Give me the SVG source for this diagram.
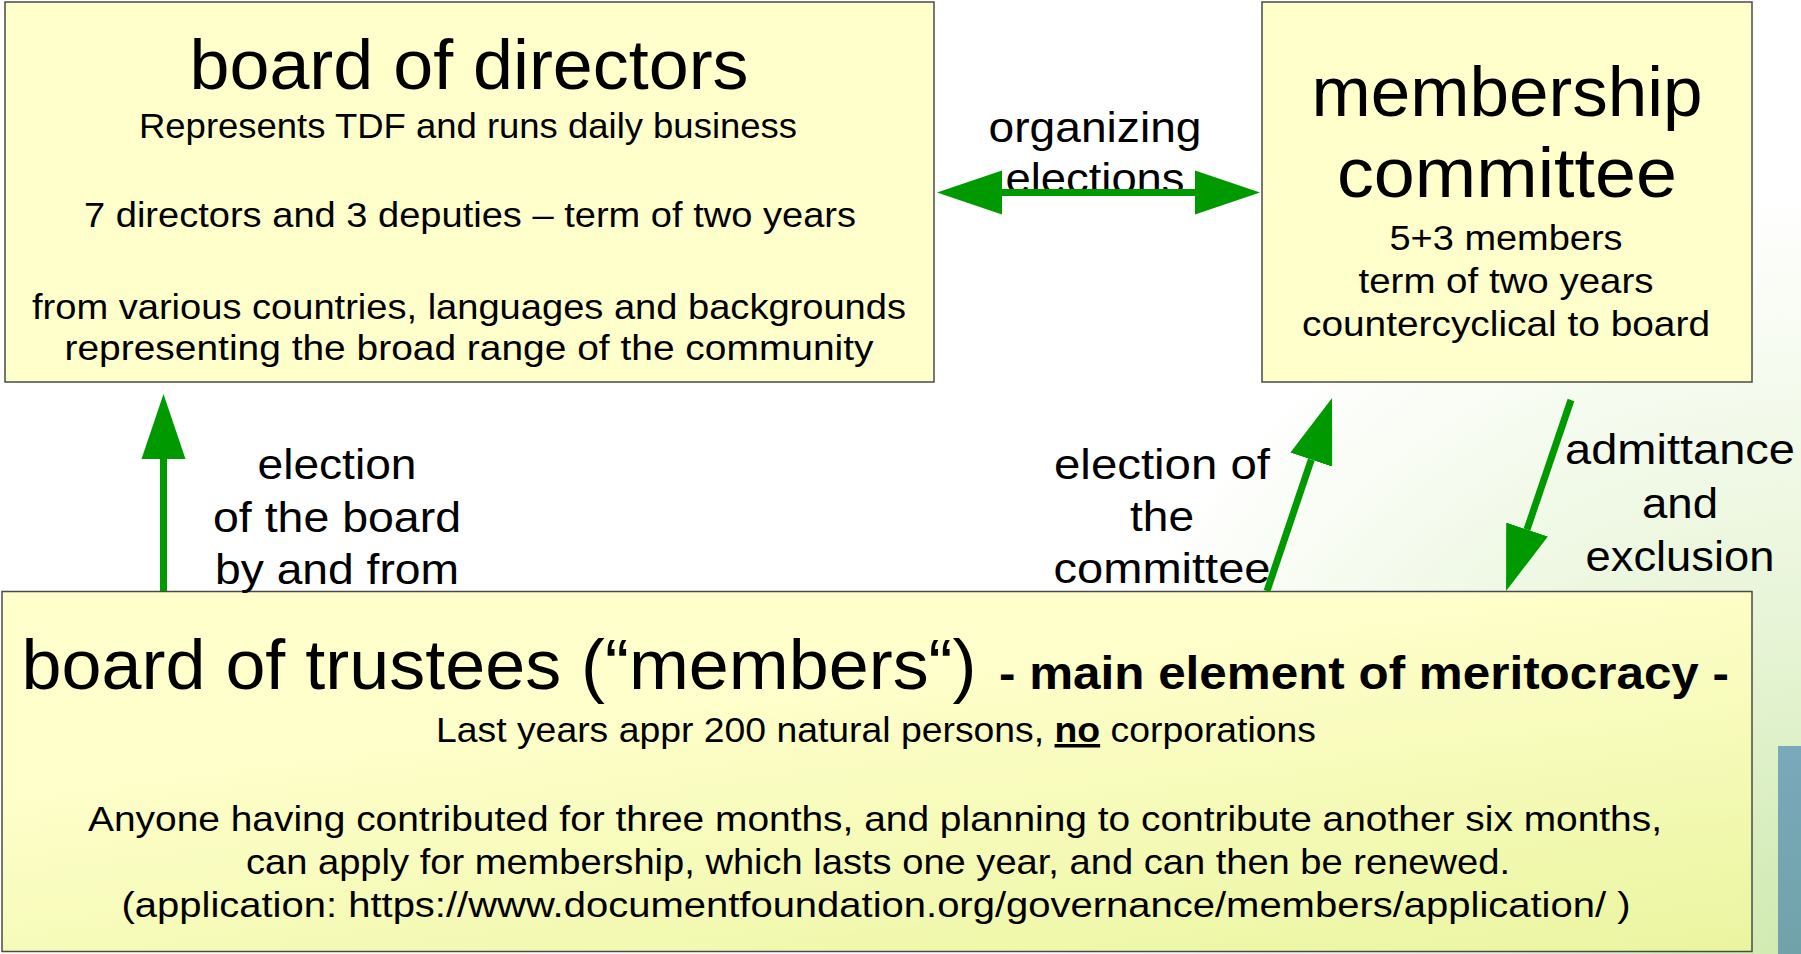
<svg xmlns="http://www.w3.org/2000/svg" width="1801" height="954" viewBox="0 0 1801 954">
<defs>
<style>
text{font-family:"Liberation Sans",Arial,sans-serif;fill:#000;text-anchor:middle}
.title{font-size:70px}
.body{font-size:35px}
.lbl{font-size:42px}
.box{fill:#ffffcc;stroke:#4a4a4a;stroke-width:1.5}
.conn{stroke:#009900;stroke-width:7;fill:none}
</style>
<radialGradient id="bg" cx="1801" cy="954" r="760" gradientUnits="userSpaceOnUse">
<stop offset="0" stop-color="#cfeab0"/>
<stop offset="0.45" stop-color="#e8f5d8"/>
<stop offset="1" stop-color="#ffffff"/>
</radialGradient>
<linearGradient id="trg" x1="0.5" y1="0.2" x2="1" y2="1">
<stop offset="0" stop-color="#ffffcc"/>
<stop offset="1" stop-color="#eaf5a0"/>
</linearGradient>
<linearGradient id="blue" x1="0" y1="0" x2="0" y2="1">
<stop offset="0" stop-color="#7aa9bb"/>
<stop offset="1" stop-color="#6fa3a9"/>
</linearGradient>
<marker id="ah" markerUnits="userSpaceOnUse" markerWidth="66" markerHeight="46" refX="0" refY="23" orient="auto-start-reverse" viewBox="0 0 66 46">
<path d="M0,1 L65,23 L0,45 z" fill="#009900"/>
</marker>
</defs>
<rect x="0" y="0" width="1801" height="954" fill="url(#bg)"/>
<rect x="1778" y="746" width="23" height="208" fill="url(#blue)"/>

<g id="board-of-directors">
<rect class="box" x="5" y="2" width="929" height="380"/>
<text class="title" x="469" y="89" textLength="559" lengthAdjust="spacingAndGlyphs">board of directors</text>
<text class="body" x="468" y="138" textLength="658" lengthAdjust="spacingAndGlyphs">Represents TDF and runs daily business</text>
<text class="body" x="470" y="227" textLength="772" lengthAdjust="spacingAndGlyphs">7 directors and 3 deputies – term of two years</text>
<text class="body" x="469" y="319" textLength="874" lengthAdjust="spacingAndGlyphs">from various countries, languages and backgrounds</text>
<text class="body" x="469" y="360" textLength="809" lengthAdjust="spacingAndGlyphs">representing the broad range of the community</text>
</g>

<g id="membership-committee">
<rect class="box" x="1262" y="2" width="490" height="380"/>
<text class="title" x="1507" y="116" textLength="391" lengthAdjust="spacingAndGlyphs">membership</text>
<text class="title" x="1507" y="197" textLength="340" lengthAdjust="spacingAndGlyphs">committee</text>
<text class="body" x="1506" y="250" textLength="233" lengthAdjust="spacingAndGlyphs">5+3 members</text>
<text class="body" x="1506" y="293" textLength="295" lengthAdjust="spacingAndGlyphs">term of two years</text>
<text class="body" x="1506" y="336" textLength="408" lengthAdjust="spacingAndGlyphs">countercyclical to board</text>
</g>

<g id="board-of-trustees">
<rect x="2" y="591.5" width="1750" height="360" fill="url(#trg)" stroke="#4a4a4a" stroke-width="1.5"/>
<text class="title" x="499" y="689" textLength="955" lengthAdjust="spacingAndGlyphs">board of trustees (“members“)</text>
<text x="1364" y="689" style="font-size:46px;font-weight:bold" textLength="730" lengthAdjust="spacingAndGlyphs">- main element of meritocracy -</text>
<text class="body" x="876" y="742" textLength="880" lengthAdjust="spacingAndGlyphs">Last years appr 200 natural persons, <tspan font-weight="bold" text-decoration="underline">no</tspan> corporations</text>
<text class="body" x="875" y="831" textLength="1574" lengthAdjust="spacingAndGlyphs">Anyone having contributed for three months, and planning to contribute another six months,</text>
<text class="body" x="878" y="874" textLength="1264" lengthAdjust="spacingAndGlyphs">can apply for membership, which lasts one year, and can then be renewed.</text>
<text class="body" x="876" y="917" textLength="1509" lengthAdjust="spacingAndGlyphs">(application: https://www.documentfoundation.org/governance/members/application/ )</text>
</g>

<g id="label-organizing">
<text class="lbl" x="1095" y="142" textLength="213" lengthAdjust="spacingAndGlyphs">organizing</text>
<text class="lbl" x="1095" y="193" textLength="179" lengthAdjust="spacingAndGlyphs">elections</text>
</g>
<g id="label-election-board">
<text class="lbl" x="337" y="479" textLength="159" lengthAdjust="spacingAndGlyphs">election</text>
<text class="lbl" x="337" y="532" textLength="248" lengthAdjust="spacingAndGlyphs">of the board</text>
<text class="lbl" x="337" y="584" textLength="244" lengthAdjust="spacingAndGlyphs">by and from</text>
</g>
<g id="label-election-committee">
<text class="lbl" x="1162" y="479" textLength="216" lengthAdjust="spacingAndGlyphs">election of</text>
<text class="lbl" x="1162" y="531" textLength="64" lengthAdjust="spacingAndGlyphs">the</text>
<text class="lbl" x="1162" y="583" textLength="217" lengthAdjust="spacingAndGlyphs">committee</text>
</g>
<g id="label-admittance">
<text class="lbl" x="1680" y="464" textLength="230" lengthAdjust="spacingAndGlyphs">admittance</text>
<text class="lbl" x="1680" y="518" textLength="76" lengthAdjust="spacingAndGlyphs">and</text>
<text class="lbl" x="1680" y="571" textLength="189" lengthAdjust="spacingAndGlyphs">exclusion</text>
</g>

<g id="connectors">
<line class="conn" x1="1002" y1="192.5" x2="1195" y2="192.5" marker-start="url(#ah)" marker-end="url(#ah)"/>
<line class="conn" x1="163.5" y1="591" x2="163.5" y2="459" marker-end="url(#ah)"/>
<line class="conn" x1="1267" y1="591" x2="1311.3" y2="459.6" marker-end="url(#ah)"/>
<line class="conn" x1="1571" y1="400" x2="1527" y2="529.5" marker-end="url(#ah)"/>
</g>
</svg>
